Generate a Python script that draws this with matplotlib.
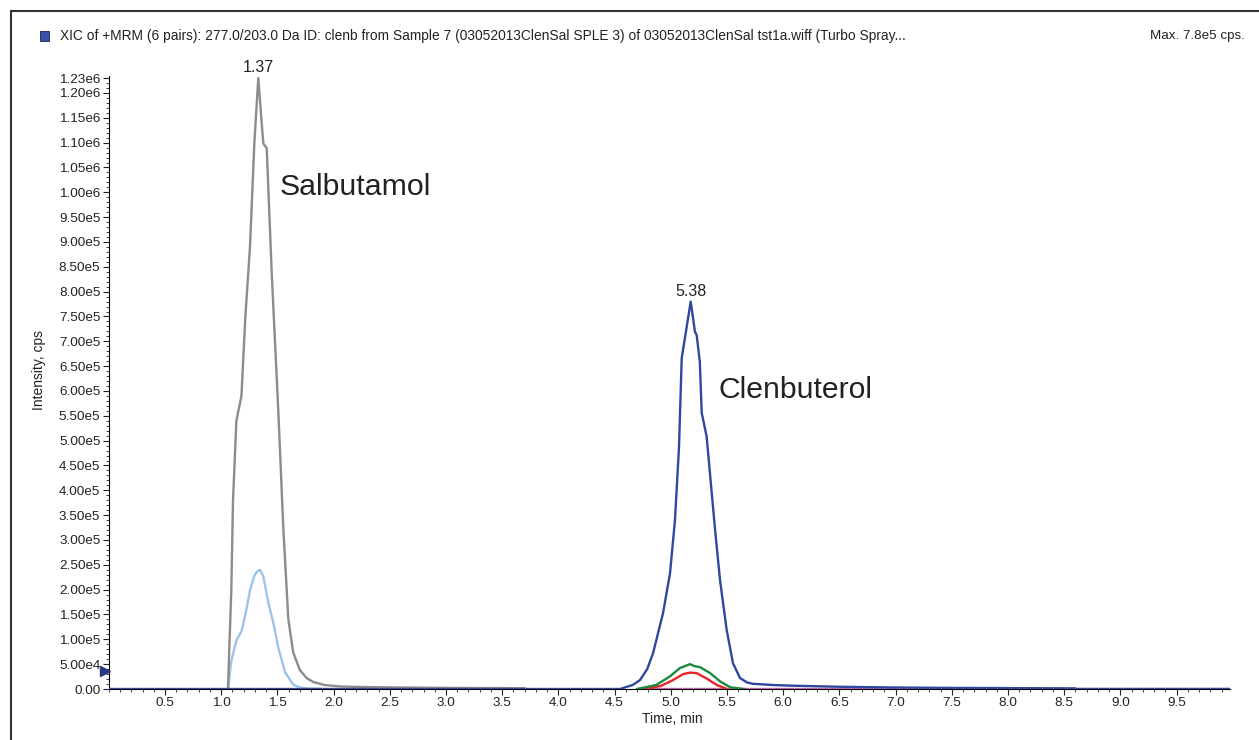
import matplotlib.pyplot as plt
import matplotlib.ticker as ticker
from matplotlib.patches import Rectangle
from matplotlib.lines import Line2D

plt.rcParams['font.family'] = ['Liberation Sans', 'DejaVu Sans']

# Salbutamol, transición principal (gris)
t_salb = [1.06, 1.09, 1.105, 1.135, 1.18, 1.215, 1.256, 1.295, 1.33, 1.36, 1.375, 1.405,
          1.449, 1.508, 1.553, 1.597, 1.64, 1.70, 1.76, 1.82, 1.92, 2.06, 2.3, 2.6, 3.0, 3.4, 3.7]
v_salb = [0, 2.0e5, 3.8e5, 5.4e5, 5.9e5, 7.5e5, 8.9e5, 1.10e6, 1.23e6, 1.14e6, 1.098e6, 1.089e6,
          8.4e5, 5.6e5, 3.22e5, 1.41e5, 7.4e4, 3.8e4, 2.2e4, 1.4e4, 8e3, 5e3, 3.8e3, 3e3, 2.2e3, 1.8e3, 1.5e3]

# Salbutamol, transición secundaria (celeste)
t_salb2 = [1.063, 1.085, 1.108, 1.138, 1.182, 1.22, 1.256, 1.29, 1.315, 1.345, 1.375, 1.42,
           1.464, 1.508, 1.568, 1.64, 1.70, 1.76, 1.9]
v_salb2 = [0, 5e4, 7.4e4, 9.9e4, 1.17e5, 1.55e5, 1.98e5, 2.25e5, 2.36e5, 2.40e5, 2.27e5, 1.73e5,
           1.33e5, 8.3e4, 3.4e4, 9e3, 3e3, 1e3, 0]

# Clenbuterol, transición principal (azul)
t_clen = [0, 4.55, 4.575, 4.66, 4.726, 4.79, 4.842, 4.931, 4.993, 5.037, 5.073, 5.097, 5.177, 5.215, 5.23,
          5.258, 5.275, 5.319, 5.364, 5.394, 5.438, 5.497, 5.553, 5.616, 5.68, 5.73, 5.91, 6.09,
          6.5, 7.0, 7.5, 8.0, 8.6, 8.61, 9.98]
v_clen = [0, 0, 2e3, 8e3, 1.8e4, 4.0e4, 7.2e4, 1.53e5, 2.33e5, 3.4e5, 4.87e5, 6.66e5, 7.8e5, 7.19e5, 7.13e5,
          6.59e5, 5.56e5, 5.08e5, 3.95e5, 3.2e5, 2.19e5, 1.19e5, 5.2e4, 2.2e4, 1.3e4, 1.05e4, 8e3, 6.6e3,
          4.5e3, 3e3, 2.2e3, 1.8e3, 1.2e3, 0, 0]

# Clenbuterol, otras transiciones
t_verde = [4.70, 4.87, 4.99, 5.08, 5.17, 5.21, 5.26, 5.35, 5.44, 5.53, 5.65]
v_verde = [0, 8e3, 2.5e4, 4.2e4, 5.0e4, 4.6e4, 4.4e4, 3.2e4, 1.5e4, 3.4e3, 0]
t_rojo = [4.76, 4.91, 5.02, 5.11, 5.17, 5.23, 5.32, 5.41, 5.50]
v_rojo = [0, 6e3, 1.8e4, 3.0e4, 3.3e4, 3.2e4, 2.1e4, 8e3, 0]
t_rosa = [4.70, 9.98]
v_rosa = [0, 0]

etiquetas_pico = ['1.37', '5.38']
y_ticks = [i * 5e4 for i in range(25)] + [1.23e6]
x_ticks = [0.5 * i for i in range(1, 20)]

fig = plt.figure(figsize=(12.59, 7.40), dpi=100)
ax = fig.add_axes([108.8 / 1259, 1 - 689 / 740, (1230 - 108.8) / 1259, (689 - 75.6) / 740])

lw = 1.7
ax.plot(t_rosa, v_rosa, color='#c060b0', lw=lw, zorder=3)
ax.plot(t_rojo, v_rojo, color='#e8242a', lw=lw, zorder=4)
ax.plot(t_verde, v_verde, color='#1a8a3a', lw=lw, zorder=5)
ax.plot(t_salb2, v_salb2, color='#9cc4e8', lw=lw, zorder=4)
ax.plot(t_salb, v_salb, color='#8c8c8c', lw=lw, zorder=5)
ax.plot(t_clen, v_clen, color='#2e48a0', lw=lw, zorder=6)

# etiquetas de los máximos
for t, v, txt in [(t_salb, v_salb, etiquetas_pico[0]), (t_clen, v_clen, etiquetas_pico[1])]:
    i = v.index(max(v))
    ax.annotate(txt, (t[i], v[i]), xytext=(0, 2), textcoords='offset points',
                ha='center', va='bottom', fontsize=11.5, color='#222222')

ax.text(1.52, 1.01e6, 'Salbutamol', fontsize=21.8, ha='left', va='center', color='#222222')
ax.text(5.42, 6.02e5, 'Clenbuterol', fontsize=21.7, ha='left', va='center', color='#222222')

ax.plot([-0.03], [3.6e4], marker='>', color='#2a3a80', markersize=7, clip_on=False, zorder=7)

ax.set_xlim(0, 9.975)
ax.set_ylim(0, 1.235e6)
ax.spines['top'].set_visible(False)
ax.spines['right'].set_visible(False)

ax.set_xticks(x_ticks)
ax.set_xticklabels(['%.1f' % x for x in x_ticks])
ax.xaxis.set_minor_locator(ticker.MultipleLocator(0.1))


def fmt(v):
    if v == 0:
        return '0.00'
    s = '%.2e' % v
    m, e = s.split('e')
    return m + 'e' + str(int(e))


ax.set_yticks(y_ticks)
ax.set_yticklabels([fmt(v) for v in y_ticks])
ax.yaxis.set_minor_locator(ticker.MultipleLocator(1e4))
ax.tick_params(axis='both', which='major', labelsize=9.7, length=4, width=0.8, colors='#222222', pad=2)
ax.tick_params(axis='both', which='minor', length=2, width=0.6, colors='#222222')

ax.set_xlabel('Time, min', fontsize=10, color='#222222', labelpad=2)
ax.xaxis.set_label_coords((672 - 108.8) / (1230 - 108.8), -0.038)
ax.set_ylabel('Intensity, cps', fontsize=10, color='#222222')
ax.yaxis.set_label_coords(-(108.8 - 46) / (1230 - 108.8), (689 - 370) / (689 - 75.6))

# encabezado estilo Analyst
fig.patches.append(Rectangle((40 / 1259, 1 - 41 / 740), 9 / 1259, 10 / 740, transform=fig.transFigure,
                             facecolor='#3a4fa8', edgecolor='#1a2050', lw=0.6))
fig.text(60 / 1259, 1 - 36 / 740,
         'XIC of +MRM (6 pairs): 277.0/203.0 Da ID: clenb from Sample 7 (03052013ClenSal SPLE 3) of '
         '03052013ClenSal tst1a.wiff (Turbo Spray...', fontsize=9.9, va='center', ha='left', color='#222222')
fig.text(1245 / 1259, 1 - 36 / 740, 'Max. 7.8e5 cps.', fontsize=9.6, va='center', ha='right', color='#222222')

# marco exterior
fig.add_artist(Line2D([11 / 1259, 11 / 1259], [0, 1 - 11 / 740], transform=fig.transFigure, color='#333333', lw=1.5))
fig.add_artist(Line2D([11 / 1259, 1], [1 - 11 / 740, 1 - 11 / 740], transform=fig.transFigure, color='#333333', lw=1.5))

plt.savefig('out.png', dpi=100)
